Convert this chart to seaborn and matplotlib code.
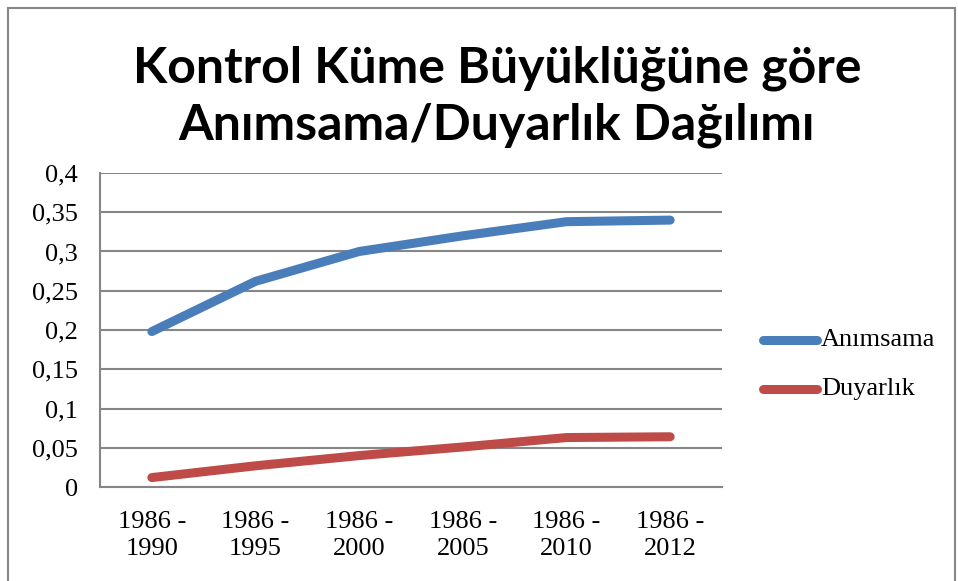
import numpy as np
import pandas as pd
import seaborn as sns
import matplotlib
matplotlib.use("Agg")
from matplotlib import pyplot as plt
from matplotlib.patches import Rectangle

# Data
periods = ["1986 -\n1990", "1986 -\n1995", "1986 -\n2000",
           "1986 -\n2005", "1986 -\n2010", "1986 -\n2012"]
animsama = [0.198, 0.262, 0.300, 0.320, 0.338, 0.340]
duyarlik = [0.012, 0.027, 0.040, 0.051, 0.063, 0.064]
series_names = ["Anımsama", "Duyarlık"]
colors = ["#4A7EBB", "#BE4B48"]

df = pd.DataFrame({"period": periods * 2,
                   "value": animsama + duyarlik,
                   "series": [series_names[0]] * len(periods)
                   + [series_names[1]] * len(periods)})

sns.set_style("white")
serif = ["Liberation Serif", "DejaVu Serif"]
plt.rcParams["font.family"] = serif
plt.rcParams["text.color"] = "black"

fig = plt.figure(figsize=(9.58, 5.81), dpi=100)
ax = fig.add_axes([100 / 958, 1 - 487 / 581, 622 / 958, 314 / 581])

sns.lineplot(data=df, x="period", y="value", hue="series",
             palette=colors, linewidth=6.5, sort=False, ax=ax,
             solid_capstyle="round", legend=False)

ax.set_xlim(-0.5, len(periods) - 0.5)
ax.set_ylim(0, 0.4)
ax.set_yticks(np.arange(0, 0.41, 0.05))
ax.set_yticklabels(["0" if v == 0 else f"{v:.2f}".rstrip("0").replace(".", ",")
                    for v in np.arange(0, 0.41, 0.05)])
ax.set_xticks(range(len(periods)))
ax.set_xticklabels(periods, linespacing=1.32)
ax.tick_params(axis="both", labelsize=19, length=0, colors="black")
ax.tick_params(axis="x", pad=17)
ax.tick_params(axis="y", pad=16)
ax.set_xlabel("")
ax.set_ylabel("")
ax.grid(axis="y", color="#868686", linewidth=1.5)
ax.set_axisbelow(True)
for side in ["top", "right"]:
    ax.spines[side].set_visible(False)
for side in ["left", "bottom"]:
    ax.spines[side].set_color("#868686")
    ax.spines[side].set_linewidth(1.5)

# legend on the right
for name, col, ypix in zip(series_names, colors, [340, 389]):
    yf = 1 - ypix / 581
    fig.add_artist(plt.Line2D([763 / 958, 817 / 958], [yf, yf], color=col,
                              linewidth=6.5, solid_capstyle="round"))
    fig.text(821 / 958, yf, name, fontsize=19, va="center", ha="left",
             family=serif, color="black")

fig.text(497 / 958, 1 - 97 / 581,
         "Kontrol Küme Büyüklüğüne göre\nAnımsama/Duyarlık Dağılımı",
         ha="center", va="center", fontsize=36, fontweight="bold",
         linespacing=1.3, color="black",
         family=["Lato", "DejaVu Sans"])

fig.add_artist(Rectangle((8 / 958, -0.01), 947 / 958, 1 - 8 / 581 + 0.01,
                         fill=False, edgecolor="#868686", linewidth=1.5,
                         transform=fig.transFigure))

fig.savefig("out.png", dpi=100)
